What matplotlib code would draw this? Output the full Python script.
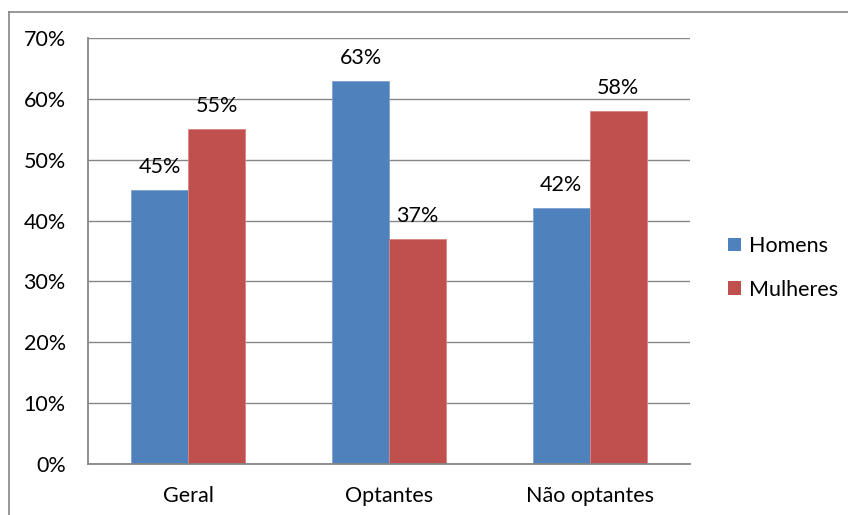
import matplotlib
matplotlib.use("Agg")
import matplotlib.pyplot as plt
from matplotlib.lines import Line2D
from matplotlib.patches import Patch
import numpy as np

categories = ["Geral", "Optantes", "Não optantes"]
homens = [45, 63, 42]
mulheres = [55, 37, 58]
series_names = ["Homens", "Mulheres"]
y_ticks = [0, 10, 20, 30, 40, 50, 60, 70]

BLUE = "#4F81BD"
RED = "#C0504D"
GRID = "#868686"
FONT = "Lato"
FS = 15.5

W, H = 848, 515
fig = plt.figure(figsize=(W / 100, H / 100), dpi=100)
ax = fig.add_axes([88 / W, 1 - 464 / H, (690 - 88) / W, (464 - 38) / H])

x = np.arange(len(categories))
bw = 0.284
b1 = ax.bar(x - bw / 2, homens, bw, color=BLUE, edgecolor="#7FA1CF", linewidth=0.6, zorder=3)
b2 = ax.bar(x + bw / 2, mulheres, bw, color=RED, edgecolor="#D98583", linewidth=0.6, zorder=3)

for bars, vals in ((b1, homens), (b2, mulheres)):
    for rect, v in zip(bars, vals):
        ax.annotate(f"{v}%", (rect.get_x() + rect.get_width() / 2, v),
                    xytext=(0, 16.5), textcoords="offset points",
                    ha="center", va="center", fontsize=FS, family=FONT, color="black")

ax.set_xlim(-0.5, len(categories) - 0.5)
ax.set_ylim(0, 70)
ax.set_yticks(y_ticks)
ax.set_yticklabels([f"{t}%" for t in y_ticks], fontsize=FS, family=FONT)
ax.set_xticks(x)
ax.set_xticklabels(categories, fontsize=FS, family=FONT)
ax.tick_params(axis="y", length=0, pad=16)
ax.tick_params(axis="x", length=0, pad=16)

ax.yaxis.grid(True, color=GRID, linewidth=1.0, zorder=0)
ax.set_axisbelow(True)
for side in ("top", "right"):
    ax.spines[side].set_visible(False)
for side in ("left", "bottom"):
    ax.spines[side].set_color(GRID)
    ax.spines[side].set_linewidth(1.3)
    ax.spines[side].set_zorder(4)

handles = [Patch(facecolor=BLUE, edgecolor="none"), Patch(facecolor=RED, edgecolor="none")]
fig.legend(handles, series_names, loc="center left", bbox_to_anchor=(709 / W, 1 - 268 / H),
           frameon=False, prop={"family": FONT, "size": FS},
           handlelength=0.6, handleheight=0.6, handletextpad=0.35, labelspacing=1.1)

# chart frame
fig.add_artist(Line2D([9 / W, 1], [1 - 12 / H, 1 - 12 / H], color=GRID, linewidth=1.2))
fig.add_artist(Line2D([9 / W, 9 / W], [0, 1 - 12 / H], color=GRID, linewidth=1.2))

fig.savefig("out.png", dpi=100)
